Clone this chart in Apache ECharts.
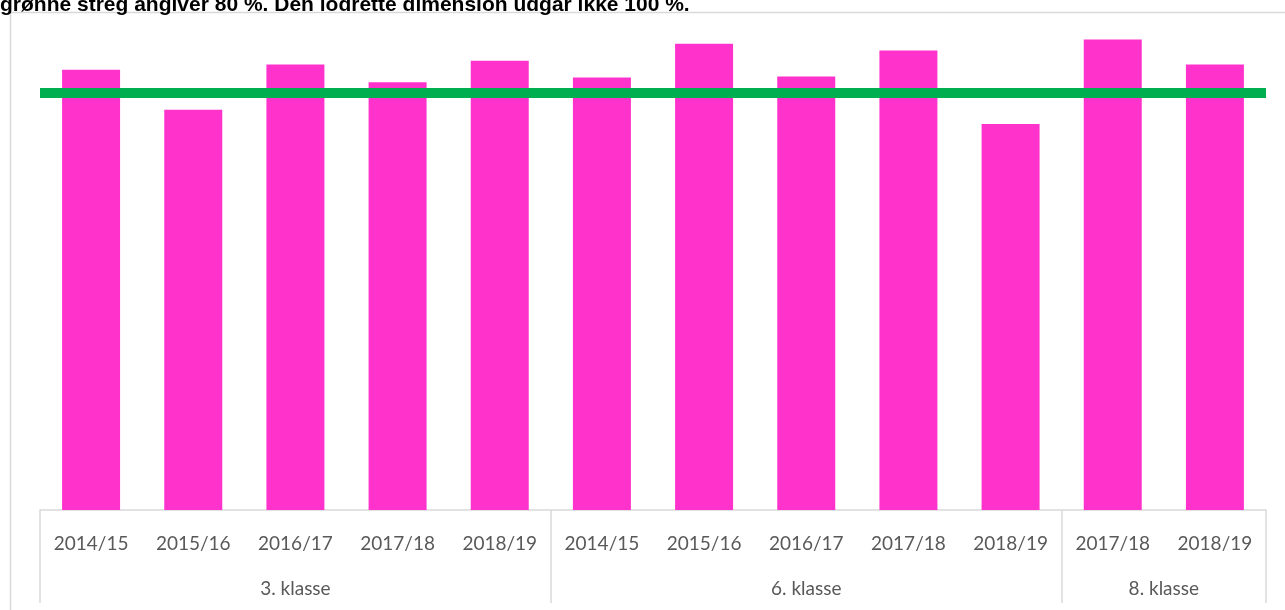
<!DOCTYPE html>
<html>
<head>
<meta charset="utf-8">
<script src="https://cdn.jsdelivr.net/npm/echarts@6/dist/echarts.min.js"></script>
<style>
  html, body { margin: 0; padding: 0; background: #fff; }
  #chart { width: 1285px; height: 610px; }
</style>
</head>
<body>
<div id="chart"></div>
<script>
// data
const years = ['2014/15', '2015/16', '2016/17', '2017/18', '2018/19',
               '2014/15', '2015/16', '2016/17', '2017/18', '2018/19',
               '2017/18', '2018/19'];
const shares = [84.5, 76.8, 85.5, 82.1, 86.2, 83.0, 89.5, 83.2, 88.2, 74.1, 90.3, 85.5];
const groups = ['3. klasse', '6. klasse', '8. klasse'];
const groupSizes = [5, 5, 2];
const threshold = 80;
const noteText = 'grønne streg angiver 80 %. Den lodrette dimension udgår ikke 100 %.';

// group boundaries and centres on a 0..12 value scale
const bounds = [0];
groupSizes.forEach(function (n) { bounds.push(bounds[bounds.length - 1] + n); });
const centres = groupSizes.map(function (n, i) { return bounds[i] + n / 2; });

const chart = echarts.init(document.getElementById('chart'), null, { renderer: 'canvas' });

const option = {
    animation: false,
    grid: { left: 40, right: 19, top: 15, bottom: 100 },
    graphic: [
        {
            type: 'rect',
            shape: { x: 10.5, y: 12.5, width: 1300, height: 640 },
            style: { fill: 'none', stroke: '#d9d9d9', lineWidth: 1.5 },
            z: -1
        },
        {
            type: 'text',
            x: 0,
            y: 16,
            style: {
                text: noteText,
                font: 'bold 21px "Liberation Sans", Arial, sans-serif',
                fill: '#000',
                verticalAlign: 'bottom'
            }
        }
    ],
    xAxis: [
        {
            type: 'category',
            data: years,
            axisLine: { lineStyle: { color: '#d9d9d9', width: 1.5 } },
            axisTick: { show: false },
            axisLabel: {
                interval: 0,
                margin: 24,
                color: '#595959',
                fontFamily: 'Lato',
                fontSize: 19
            }
        },
        {
            type: 'value',
            position: 'bottom',
            min: 0,
            max: years.length,
            splitLine: { show: false },
            axisLine: { show: false },
            axisTick: {
                show: true,
                customValues: bounds,
                length: 93,
                lineStyle: { color: '#d9d9d9', width: 1.5 }
            },
            axisLabel: {
                customValues: centres,
                margin: 69,
                color: '#595959',
                fontFamily: 'Lato',
                fontSize: 19,
                formatter: function (v) {
                    const i = centres.indexOf(v);
                    return i >= 0 ? groups[i] : '';
                }
            }
        }
    ],
    yAxis: {
        type: 'value',
        min: 0,
        max: 95,
        show: false,
        splitLine: { show: false }
    },
    series: [
        {
            type: 'bar',
            data: shares,
            barWidth: 58,
            itemStyle: { color: '#ff33cc' },
            markLine: {
                silent: true,
                symbol: 'none',
                label: { show: false },
                lineStyle: { color: '#00b050', width: 10, type: 'solid' },
                data: [{ yAxis: threshold }]
            }
        }
    ]
};

chart.setOption(option);
</script>
</body>
</html>
